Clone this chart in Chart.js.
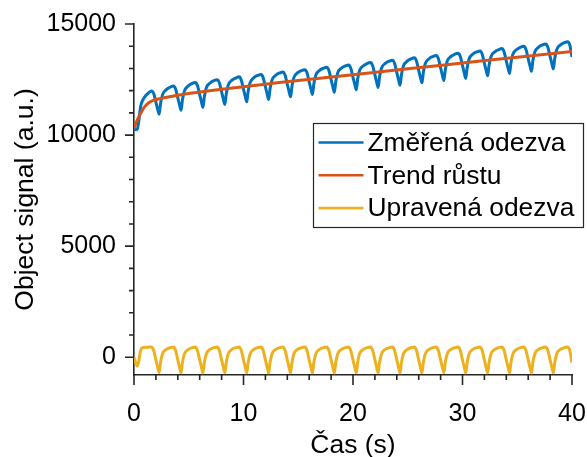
<!DOCTYPE html>
<html>
<head>
<meta charset="utf-8">
<script src="https://cdn.jsdelivr.net/npm/chart.js@4.4.1/dist/chart.umd.min.js"></script>
<style>
  html, body { margin: 0; padding: 0; background: #ffffff; }
  #wrap { width: 587px; height: 457px; }
</style>
</head>
<body>
<div id="wrap"><canvas id="c" width="587" height="457"></canvas></div>
<script>
// ---------------- data ----------------
const seriesLabels = ['Změřená odezva', 'Trend růstu', 'Upravená odezva'];

// time samples (s) for measured and corrected signals
const tSignal = [
  0, 0.15, 0.3, 0.45, 0.6, 0.8, 1.1, 1.35, 1.6, 1.8, 2.0, 2.15,
  2.3, 2.42, 2.6, 2.95, 3.3, 3.6, 3.8, 4.0, 4.15,
  4.3, 4.42, 4.6, 4.95, 5.3, 5.6, 5.8, 6.0, 6.15,
  6.3, 6.42, 6.6, 6.95, 7.3, 7.6, 7.8, 8.0, 8.15,
  8.3, 8.42, 8.6, 8.95, 9.3, 9.6, 9.8, 10.0, 10.15,
  10.3, 10.42, 10.6, 10.95, 11.3, 11.6, 11.8, 12.0, 12.15,
  12.3, 12.42, 12.6, 12.95, 13.3, 13.6, 13.8, 14.0, 14.15,
  14.3, 14.42, 14.6, 14.95, 15.3, 15.6, 15.8, 16.0, 16.15,
  16.3, 16.42, 16.6, 16.95, 17.3, 17.6, 17.8, 18.0, 18.15,
  18.3, 18.42, 18.6, 18.95, 19.3, 19.6, 19.8, 20.0, 20.15,
  20.3, 20.42, 20.6, 20.95, 21.3, 21.6, 21.8, 22.0, 22.15,
  22.3, 22.42, 22.6, 22.95, 23.3, 23.6, 23.8, 24.0, 24.15,
  24.3, 24.42, 24.6, 24.95, 25.3, 25.6, 25.8, 26.0, 26.15,
  26.3, 26.42, 26.6, 26.95, 27.3, 27.6, 27.8, 28.0, 28.15,
  28.3, 28.42, 28.6, 28.95, 29.3, 29.6, 29.8, 30.0, 30.15,
  30.3, 30.42, 30.6, 30.95, 31.3, 31.6, 31.8, 32.0, 32.15,
  32.3, 32.42, 32.6, 32.95, 33.3, 33.6, 33.8, 34.0, 34.15,
  34.3, 34.42, 34.6, 34.95, 35.3, 35.6, 35.8, 36.0, 36.15,
  36.3, 36.42, 36.6, 36.95, 37.3, 37.6, 37.8, 38.0, 38.15,
  38.3, 38.42, 38.6, 38.95, 39.3, 39.6, 39.8, 40
];

// measured response (a.u.)
const measured = [
  10300, 10242, 10272, 10678, 11272, 11576, 11792, 11907, 11984, 11868, 11480, 11185,
  10940, 11402, 11810, 12045, 12157, 12209, 12072, 11670, 11372,
  11114, 11574, 11978, 12211, 12320, 12369, 12217, 11815, 11514,
  11244, 11711, 12123, 12344, 12451, 12495, 12348, 11945, 11639,
  11378, 11840, 12246, 12472, 12568, 12621, 12468, 12060, 11763,
  11497, 11953, 12358, 12582, 12682, 12728, 12584, 12170, 11869,
  11602, 12064, 12474, 12694, 12794, 12841, 12692, 12283, 11982,
  11720, 12172, 12587, 12807, 12906, 12946, 12802, 12387, 12090,
  11828, 12284, 12693, 12916, 13010, 13055, 12906, 12496, 12194,
  11922, 12388, 12797, 13015, 13114, 13159, 13005, 12600, 12303,
  12036, 12497, 12907, 13120, 13224, 13270, 13115, 12706, 12404,
  12142, 12598, 13008, 13226, 13325, 13371, 13226, 12812, 12510,
  12243, 12704, 13109, 13327, 13431, 13476, 13327, 12917, 12610,
  12353, 12809, 13218, 13436, 13535, 13580, 13431, 13026, 12719,
  12457, 12908, 13322, 13540, 13639, 13679, 13535, 13125, 12823,
  12551, 13017, 13426, 13649, 13743, 13788, 13639, 13224, 12927,
  12665, 13121, 13530, 13748, 13847, 13892, 13743, 13333, 13036,
  12769, 13230, 13634, 13852, 13956, 14001, 13847, 13437, 13135,
  12868, 13329, 13738, 13956, 14055, 14100, 13946, 13541, 13239,
  12977, 13433, 13842, 14060, 14159, 14204, 14055, 13515
];

// corrected (detrended) response (a.u.)
const corrected = [
  0, -250, -400, -150, 300, 430, 450, 455, 460, 300, -120, -430,
  -690, -240, 150, 350, 430, 455, 300, -120, -430,
  -700, -250, 140, 345, 430, 460, 295, -120, -430,
  -710, -250, 150, 350, 435, 460, 300, -115, -430,
  -700, -245, 150, 355, 430, 465, 300, -120, -425,
  -700, -250, 145, 350, 430, 460, 305, -120, -430,
  -705, -250, 150, 350, 430, 460, 300, -120, -430,
  -700, -255, 150, 350, 430, 455, 300, -125, -430,
  -700, -250, 150, 355, 430, 460, 300, -120, -430,
  -710, -250, 150, 350, 430, 460, 295, -120, -425,
  -700, -245, 155, 350, 435, 465, 300, -120, -430,
  -700, -250, 150, 350, 430, 460, 305, -120, -430,
  -705, -250, 145, 345, 430, 460, 300, -120, -435,
  -700, -250, 150, 350, 430, 460, 300, -115, -430,
  -700, -255, 150, 350, 430, 455, 300, -120, -430,
  -710, -250, 150, 355, 430, 460, 300, -125, -430,
  -700, -250, 150, 350, 430, 460, 300, -120, -425,
  -700, -245, 150, 350, 435, 465, 300, -120, -430,
  -705, -250, 150, 350, 430, 460, 295, -120, -430,
  -700, -250, 150, 350, 430, 460, 300, -250
];

// growth trend
const tTrend = [0, 0.25, 0.5, 0.75, 1.0, 1.25, 1.5, 1.75, 2.0, 2.5, 3, 4, 5, 6, 8, 10, 12, 15, 20, 25, 30, 35, 40];
const trend  = [10300, 10620, 10880, 11110, 11290, 11420, 11500, 11560, 11600, 11650, 11700, 11790, 11870, 11935, 12060, 12180, 12290, 12460, 12720, 12985, 13245, 13505, 13765];

// axis ticks
const xMajorTicks = [0, 10, 20, 30, 40];
const xMinorTicks = [2, 4, 6, 8, 12, 14, 16, 18, 22, 24, 26, 28, 32, 34, 36, 38];
const yMajorTicks = [0, 5000, 10000, 15000];
const yMinorTicks = [1000, 2000, 3000, 4000, 6000, 7000, 8000, 9000, 11000, 12000, 13000, 14000];

// ---------------- styling ----------------
const FONT = "'Liberation Sans', Arial, Helvetica, sans-serif";
const AXIS = '#262626';
const COLORS = ['#0072BD', '#D95319', '#EDB120'];

const toXY = (xs, ys) => xs.map((x, i) => ({ x: x, y: ys[i] }));

const tickPlugin = {
  id: 'matlabTicks',
  afterDraw(chart) {
    const ctx = chart.ctx;
    const xs = chart.scales.x, ys = chart.scales.y;
    const ca = chart.chartArea;
    const x0 = Math.round(ca.left), y0 = Math.round(ca.bottom);
    ctx.save();
    ctx.strokeStyle = AXIS;
    ctx.lineWidth = 1.6;
    ctx.beginPath();
    yMajorTicks.forEach(v => { const p = ys.getPixelForValue(v); ctx.moveTo(x0, p); ctx.lineTo(x0 - 9, p); });
    yMinorTicks.forEach(v => { const p = ys.getPixelForValue(v); ctx.moveTo(x0, p); ctx.lineTo(x0 - 5, p); });
    xMajorTicks.forEach(v => { const p = xs.getPixelForValue(v); ctx.moveTo(p, y0); ctx.lineTo(p, y0 + 10); });
    xMinorTicks.forEach(v => { const p = xs.getPixelForValue(v); ctx.moveTo(p, y0); ctx.lineTo(p, y0 + 5); });
    ctx.stroke();

    // legend box (MATLAB-style, over the axes)
    const bx = 313.5, by = 123.5, bw = 270, bh = 104;
    ctx.fillStyle = '#ffffff';
    ctx.fillRect(bx, by, bw, bh);
    ctx.lineWidth = 1.2;
    ctx.strokeStyle = AXIS;
    ctx.strokeRect(bx, by, bw, bh);
    ctx.font = '26.4px ' + FONT;
    ctx.textBaseline = 'middle';
    ctx.textAlign = 'left';
    chart.data.datasets.forEach((ds, i) => {
      const yy = by + 19 + i * 32.8;
      ctx.strokeStyle = ds.borderColor;
      ctx.lineWidth = 2.6;
      ctx.beginPath();
      ctx.moveTo(bx + 5, yy);
      ctx.lineTo(bx + 50, yy);
      ctx.stroke();
      ctx.fillStyle = '#000000';
      ctx.fillText(ds.label, bx + 54, yy + 1);
    });
    ctx.restore();
  }
};

const lineDs = (label, data, color, order) => ({
  label: label,
  data: data,
  borderColor: color,
  backgroundColor: color,
  borderWidth: 3,
  pointRadius: 0,
  fill: false,
  cubicInterpolationMode: 'monotone',
  order: order
});

new Chart(document.getElementById('c'), {
  type: 'line',
  data: {
    datasets: [
      lineDs(seriesLabels[0], toXY(tSignal, measured), COLORS[0], 1),
      lineDs(seriesLabels[1], toXY(tTrend, trend), COLORS[1], 0),
      lineDs(seriesLabels[2], toXY(tSignal, corrected), COLORS[2], 2)
    ]
  },
  options: {
    responsive: false,
    devicePixelRatio: 1,
    animation: false,
    layout: { padding: { top: 24, right: 15, left: 0, bottom: 0 } },
    plugins: { legend: { display: false }, tooltip: { enabled: false } },
    scales: {
      x: {
        type: 'linear',
        min: 0, max: 40,
        afterBuildTicks: s => { s.ticks = xMajorTicks.map(v => ({ value: v })); },
        afterFit: s => { s.height = 82; s.paddingRight = 15; s.paddingLeft = 0; },
        grid: { display: false },
        border: { display: true, color: AXIS, width: 1.6 },
        ticks: { color: '#000', font: { family: FONT, size: 25, lineHeight: 1 }, padding: 19, maxRotation: 0, autoSkip: false, callback: v => String(v) },
        title: { display: true, text: 'Čas (s)', color: '#000', font: { family: FONT, size: 26.5, lineHeight: 1 }, padding: { top: 0, bottom: -2 } }
      },
      y: {
        type: 'linear',
        min: -800, max: 15000,
        afterBuildTicks: s => { s.ticks = yMajorTicks.map(v => ({ value: v })); },
        afterFit: s => { s.width = 134; s.paddingTop = 0; s.paddingBottom = 0; },
        grid: { display: false },
        border: { display: true, color: AXIS, width: 1.6 },
        ticks: { color: '#000', font: { family: FONT, size: 25, lineHeight: 1 }, padding: 10, autoSkip: false, callback: v => String(v) },
        title: { display: true, text: 'Object signal (a.u.)', color: '#000', font: { family: FONT, size: 26.5, lineHeight: 1 }, padding: { top: 12, bottom: 0 } }
      }
    }
  },
  plugins: [tickPlugin]
});
</script>
</body>
</html>
